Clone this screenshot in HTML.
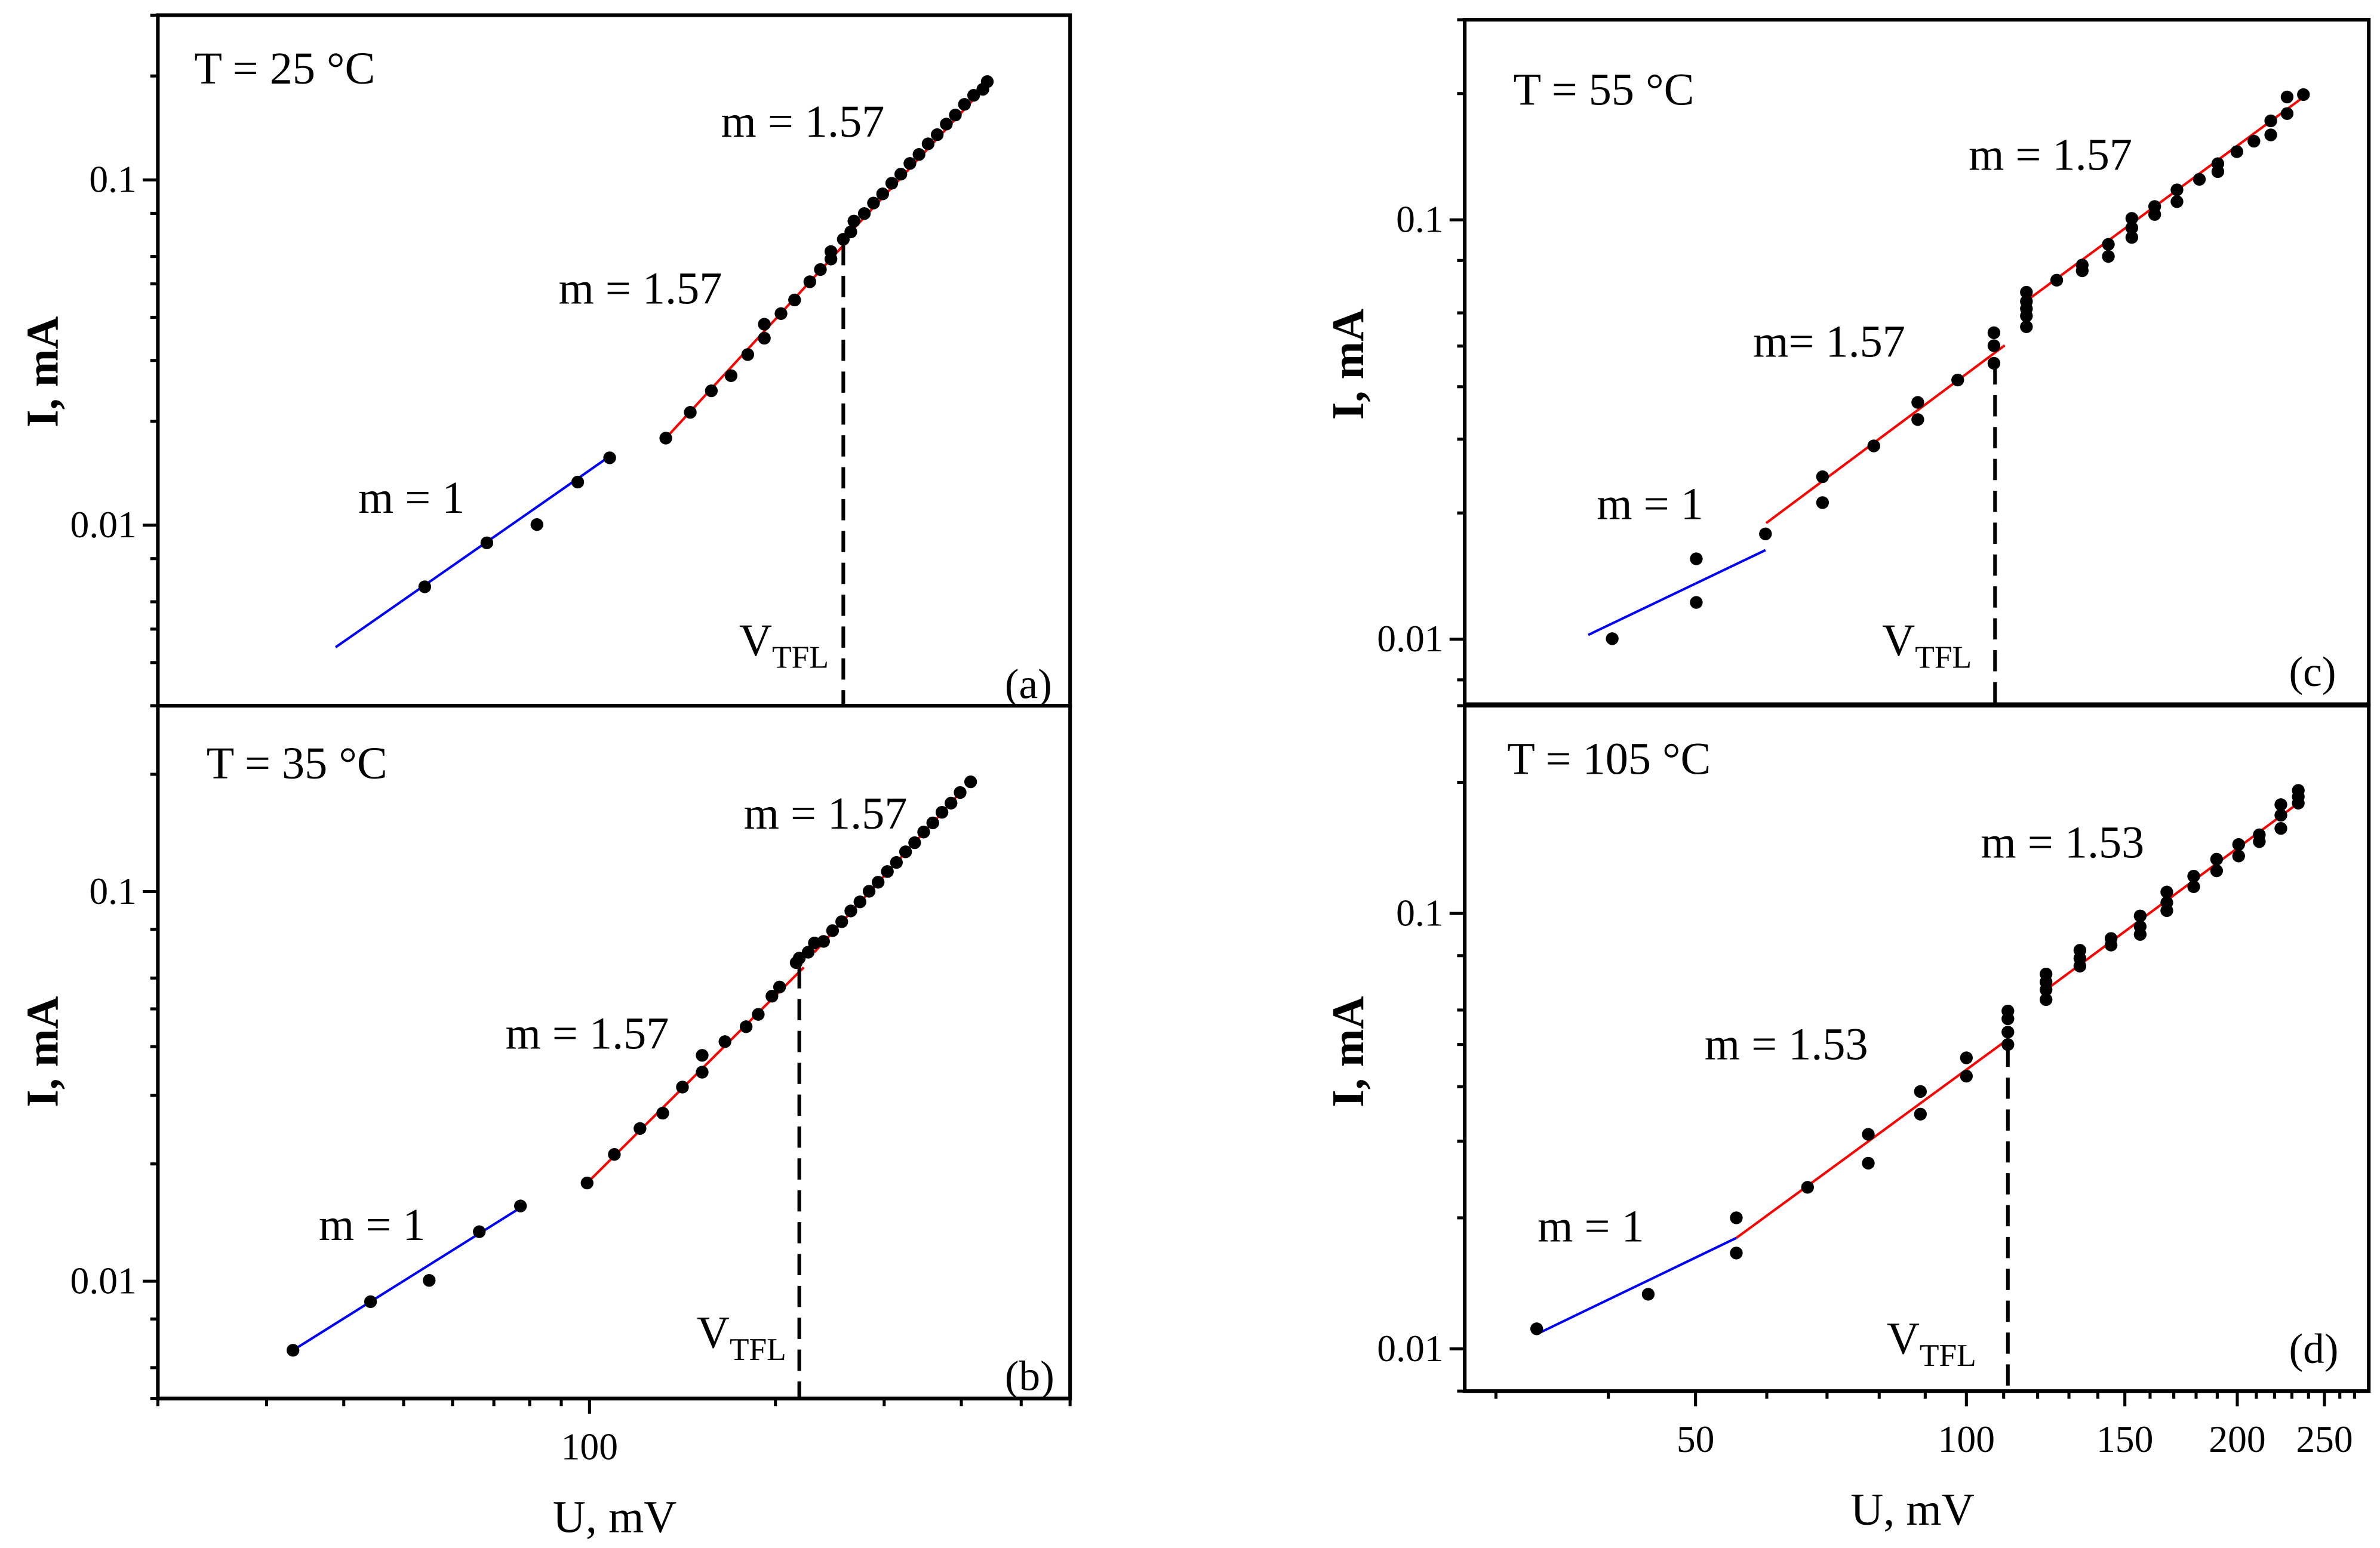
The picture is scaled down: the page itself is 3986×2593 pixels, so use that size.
<!DOCTYPE html>
<html><head><meta charset="utf-8"><style>
html,body{margin:0;padding:0;background:#fff;}
svg{display:block;}
text{font-family:"Liberation Serif",serif;fill:#000;}
</style></head><body>
<svg id="fig" xmlns="http://www.w3.org/2000/svg" width="3986" height="2593" viewBox="0 0 1568 1020" preserveAspectRatio="none"></svg>
<script>
// ---- data (U in mV, I in mA) ----
const aBlueU=[54.1,68.2,82.2,95.7,107.8];
const aBlueI=[0.00663,0.00889,0.01004,0.01333,0.01567];
const aRedU=[132.9,145.6,157.5,169.5,180.4,191.9,191.9,204.2,214.8,227.4,236.5,246.0,246.0,257.6,264.9,268,278.6,288.3,298.3,308.6,319.2,330.2,341.6,353.4,365.6,378.2,391.2,404.7,418.8,433.4,440.6];
const aRedI=[0.01787,0.02122,0.0245,0.0271,0.0312,0.0348,0.0382,0.041,0.0449,0.0507,0.055,0.059,0.062,0.0673,0.0707,0.076,0.0799,0.0857,0.0911,0.0978,0.1039,0.1116,0.1185,0.1272,0.1352,0.1451,0.1542,0.1655,0.1758,0.183,0.1926];
const aFitU=[[38.8,107.8],[132.9,257.6],[264.9,433.4]];
const aFitI=[[0.00443,0.01583],[0.01787,0.0646],[0.0707,0.183]];
const aVtfl=[257.6,0.0652];

const bBlueU=[33.1,44.2,55.0,66.3,77.3];
const bBlueI=[0.00665,0.00886,0.01005,0.0134,0.0156];
const bRedU=[99.1,109.7,120.7,131.4,141.4,152.2,152.2,165.7,179.3,187.6,197.4,203.1,216.1,218.6,226.0,231.3,239.3,247.5,256.1,264.9,274.1,283.6,293.3,303.6,314.0,324.9,336.1,347.6,359.6,372.1,384.9,398.2,414.1];
const bRedI=[0.01787,0.02116,0.02466,0.027,0.0315,0.0344,0.038,0.0412,0.045,0.0484,0.0539,0.0569,0.0657,0.0675,0.0699,0.0738,0.0745,0.0794,0.0837,0.0892,0.0941,0.1002,0.1057,0.1126,0.1188,0.1265,0.1335,0.1422,0.1501,0.1598,0.1687,0.1796,0.1913];
const bFitU=[[33.1,78.1],[99.1,222.3],[231.3,404.8]];
const bFitI=[[0.00665,0.0156],[0.01787,0.0639],[0.0699,0.1846]];
const bVtfl=[218.6,0.064];

const cPtU=[40.4,50.1,50.1,59.8,69.2,69.2,78.9,88.3,88.3,97.8,107.3,107.3,107.3,116.6,116.6,116.6,116.6,116.6,126.0,134.5,134.5,143.8,143.8,152.7,152.7,152.7,161.9,161.9,171.4,171.4,181.5,190.3,190.3,199.8,208.7,217.9,217.9,227.2,227.2,236.9];
const cPtI=[0.01003,0.01555,0.01224,0.01783,0.0244,0.02117,0.0289,0.0367,0.0334,0.0415,0.0538,0.0501,0.0455,0.0672,0.0639,0.0614,0.059,0.0556,0.0718,0.078,0.0756,0.0874,0.0818,0.1008,0.0957,0.0908,0.1076,0.103,0.1179,0.1105,0.1249,0.1361,0.1303,0.1454,0.154,0.1722,0.1594,0.1963,0.1792,0.1989];
const cFitU=[[38.0,59.8],[59.9,110.3],[117.3,240.1]];
const cFitI=[[0.01024,0.01631],[0.01892,0.0502],[0.0647,0.2004]];
const cVtfl=[107.6,0.0455];

const dPtU=[33.3,44.3,55.5,55.5,66.6,77.8,77.8,88.9,88.9,100,100,111.2,111.2,111.2,111.2,122.6,122.6,122.6,122.6,133.7,133.7,133.7,144.8,144.8,156.0,156.0,156.0,167.0,167.0,167.0,178.9,178.9,189.7,189.7,200.7,200.7,211.6,211.6,223.6,223.6,223.6,233.8,233.8,233.8];
const dPtI=[0.01112,0.01335,0.02,0.0166,0.0235,0.0311,0.0267,0.039,0.0346,0.0466,0.0423,0.0597,0.0573,0.0534,0.05,0.0726,0.0696,0.0668,0.0634,0.0823,0.0789,0.0757,0.0876,0.0846,0.0987,0.0933,0.0895,0.112,0.1059,0.1015,0.1218,0.1152,0.1332,0.1253,0.144,0.1355,0.1516,0.1462,0.1778,0.1681,0.1568,0.1917,0.1854,0.1792];
const dFitU=[[33.3,55.5],[55.5,111.2],[122.6,234.7]];
const dFitI=[[0.01081,0.01798],[0.01798,0.0514],[0.0668,0.1803]];
const dVtfl=[111.2,0.0497];

const yTickLabels=["0.1","0.01"];
const yTickVals=[0.1,0.01];
const leftXTickVals=[100];
const leftXTickLabels=["100"];
const rightXTickVals=[50,100,150,200,250];
const rightXTickLabels=["50","100","150","200","250"];

// ---- helpers ----
const svg=document.getElementById('fig');
const NS='http://www.w3.org/2000/svg';
function mk(tag,attrs,parent){const e=document.createElementNS(NS,tag);for(const k in attrs)e.setAttribute(k,attrs[k]);(parent||svg).appendChild(e);return e;}
function logScale(d0,d1,r0,r1){const l0=Math.log10(d0),l1=Math.log10(d1);return v=>r0+(Math.log10(v)-l0)/(l1-l0)*(r1-r0);}

const xL=logScale(20,600,104,705);
const xR=logScale(27.7,280,965,1560.6);
const panels=[
 {id:'a',x:xL,y:logScale(0.003,0.3,465,10),x0:104,x1:705,y0:10,y1:465,dec:[0.001,0.01,0.1],T:"T = 25 °C",Tp:[128,55],pts:[[aBlueU,aBlueI],[aRedU,aRedI]],fu:aFitU,fi:aFitI,v:aVtfl,labs:[["m = 1.57",475,90],["m = 1.57",368,200],["m = 1",236,338]],vt:[487,432],tag:["(a)",662,460],yl:[28,245]},
 {id:'b',x:xL,y:logScale(0.005,0.3,921.5,465),x0:104,x1:705,y0:465,y1:921.5,dec:[0.001,0.01,0.1],T:"T = 35 °C",Tp:[136,513],pts:[[bBlueU,bBlueI],[bRedU,bRedI]],fu:bFitU,fi:bFitI,v:bVtfl,labs:[["m = 1.57",490,546],["m = 1.57",333,691],["m = 1",210,817]],vt:[459,888],tag:["(b)",662,916],yl:[28,693]},
 {id:'c',x:xR,y:logScale(0.007,0.3,464,13),x0:965,x1:1560.6,y0:13,y1:464,dec:[0.001,0.01,0.1],T:"T = 55 °C",Tp:[997,69],pts:[[cPtU,cPtI]],fu:cFitU,fi:cFitI,v:cVtfl,labs:[["m = 1.57",1297,112],["m= 1.57",1155,235],["m = 1",1052,342]],vt:[1240,432],tag:["(c)",1508,452],yl:[888,240]},
 {id:'d',x:xR,y:logScale(0.008,0.3,916.6,465),x0:965,x1:1560.6,y0:465,y1:916.6,dec:[0.001,0.01,0.1],T:"T = 105 °C",Tp:[993,510],pts:[[dPtU,dPtI]],fu:dFitU,fi:dFitI,v:dVtfl,labs:[["m = 1.53",1305,565],["m = 1.53",1123,698],["m = 1",1013,818]],vt:[1243,892],tag:["(d)",1508,898],yl:[888,693]}
];
const fitColors=['#0000ff','#ff0000','#ff0000'];
const minorMult=[2,3,4,5,6,8];

panels.forEach(p=>{
 const g=mk('g',{});
 
 
 const fr=mk('rect',{x:p.x0,y:p.y0,width:p.x1-p.x0,height:p.y1-p.y0,fill:'none',stroke:'#000','stroke-width':2.4},g);
 
 
 p.dec.forEach(d=>{
  minorMult.concat([1]).forEach(m=>{
   const v=d*m; const yy=p.y(v);
   if(yy<p.y0-0.5||yy>p.y1+0.5)return;
   const len=m===1?10:5;
   const t=mk('line',{x1:p.x0-len,x2:p.x0,y1:yy,y2:yy,stroke:'#000','stroke-width':2},g);
   
   
  });
 });
 yTickVals.forEach((v,i)=>{
  const t=mk('text',{x:p.x0-14,y:p.y(v)+8,'font-size':25,'text-anchor':'end'},g);
  t.textContent=yTickLabels[i];
  
  
 });
 const yt=mk('text',{x:p.yl[0],y:p.yl[1],'font-size':30,'font-weight':'bold','text-anchor':'middle',transform:`rotate(-90 ${p.yl[0]} ${p.yl[1]})`,dy:10},g);
 yt.textContent='I, mA';
 
 
 p.fu.forEach((u,i)=>{
  const l=mk('line',{x1:p.x(u[0]),y1:p.y(p.fi[i][0]),x2:p.x(u[1]),y2:p.y(p.fi[i][1]),stroke:fitColors[i],'stroke-width':1.6},g);
  
  
 });
 p.pts.forEach(s=>{
  s[0].forEach((u,i)=>{
   const c=mk('circle',{cx:p.x(u),cy:p.y(s[1][i]),r:4.2,fill:'#000'},g);
   
   
  });
 });
 const vl=mk('line',{x1:p.x(p.v[0]),x2:p.x(p.v[0]),y1:p.y(p.v[1]),y2:p.y1,stroke:'#000','stroke-width':2.4,'stroke-dasharray':'14 7'},g);
 
 
 const tt=mk('text',{x:p.Tp[0],y:p.Tp[1],'font-size':30},g);
 tt.textContent=p.T;
 
 
 p.labs.forEach(l=>{
  const t=mk('text',{x:l[1],y:l[2],'font-size':30},g);
  t.textContent=l[0];
  
  
 });
 const vt=mk('text',{x:p.vt[0],y:p.vt[1],'font-size':30},g);
 
 
 const s1=mk('tspan',{},vt); s1.textContent='V';
 const s2=mk('tspan',{dy:8,'font-size':21},vt); s2.textContent='TFL';
 const tg=mk('text',{x:p.tag[1],y:p.tag[2],'font-size':28},g);
 tg.textContent=p.tag[0];
 
 
});

function xAxis(sc,yb,minors,majors,labVals,labs,x0,x1,title,tx){
 minors.forEach(v=>{const xx=sc(v);if(xx<x0-0.5||xx>x1+0.5)return;
  const t=mk('line',{x1:xx,x2:xx,y1:yb,y2:yb+5,stroke:'#000','stroke-width':2});
  
  });
 majors.forEach(v=>{const xx=sc(v);
  const t=mk('line',{x1:xx,x2:xx,y1:yb,y2:yb+10,stroke:'#000','stroke-width':2});
  
  });
 labVals.forEach((v,i)=>{
  const t=mk('text',{x:sc(v),y:yb+40,'font-size':25,'text-anchor':'middle'});
  t.textContent=labs[i];
  
  });
 const t=mk('text',{x:tx,y:yb+88,'font-size':30,'text-anchor':'middle'});
 t.textContent=title;
 
 
}
xAxis(xL,921.5,[20,30,40,50,60,70,80,90,200,300,400,500,600],[100],leftXTickVals,leftXTickLabels,104,705,'U, mV',405);
const rm=[];for(let v=30;v<=270;v+=10){if(v%50)rm.push(v);}
xAxis(xR,916.6,rm,rightXTickVals,rightXTickVals,rightXTickLabels,965,1560.6,'U, mV',1260);
</script>
</body></html>
